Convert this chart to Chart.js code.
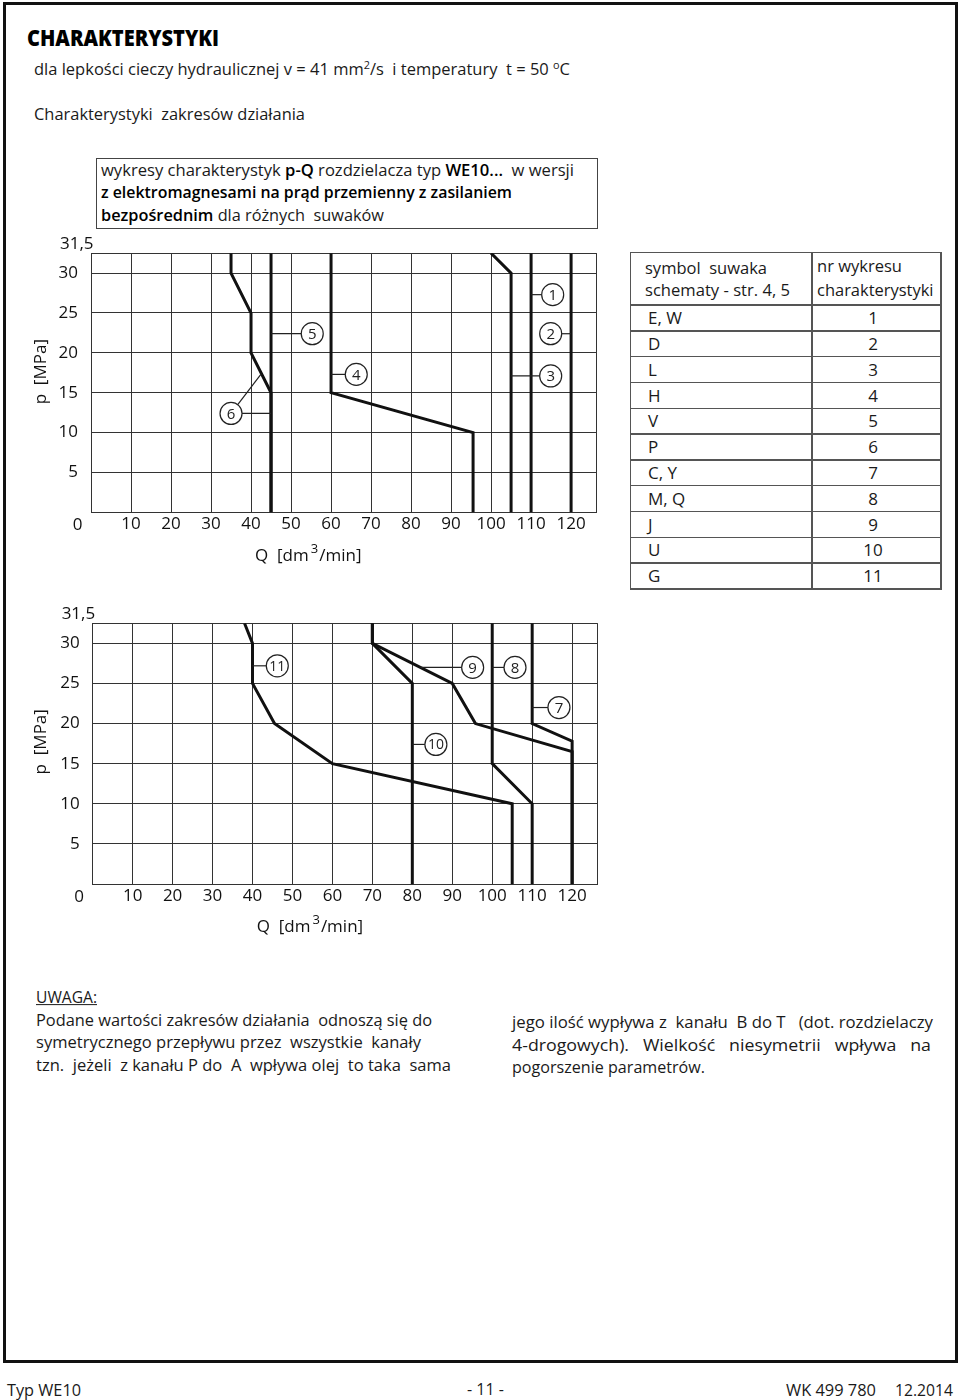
<!DOCTYPE html>
<html lang="pl">
<head>
<meta charset="utf-8">
<script src="https://cdn.jsdelivr.net/npm/chart.js@4.4.1/dist/chart.umd.min.js"></script>
<style>
html,body{margin:0;padding:0;background:#fff;}
#page{position:relative;width:960px;height:1400px;overflow:hidden;font-family:'Open Sans',sans-serif;color:#1a1a1a;}
.t{position:absolute;white-space:nowrap;line-height:1.2;transform-origin:0 50%;}
.sup{font-size:0.66em;position:relative;top:-0.55em;}
.b{font-weight:600;color:#000;}
canvas{position:absolute;left:0;}
.frame{position:absolute;left:3px;top:2px;width:949px;height:1355px;border:3px solid #111;}
.box{position:absolute;box-sizing:border-box;left:95.5px;top:158px;width:502px;height:70.5px;border:1.4px solid #444;}
.tl{position:absolute;background:#555;}
</style>
</head>
<body>
<div id="page">
  <div class="frame"></div>

  <div class="t" style="left:27px;top:37px;font-size:22px;font-weight:800;color:#000;" data-w="192">CHARAKTERYSTYKI</div>
  <div class="t" style="left:33.6px;top:69px;font-size:17px;" data-w="536">dla lepkości cieczy hydraulicznej v = 41 mm<span class="sup">2</span>/s&nbsp; i temperatury&nbsp; t = 50 <span class="sup">o</span>C</div>
  <div class="t" style="left:33.6px;top:114px;font-size:17px;" data-w="271">Charakterystyki&nbsp; zakresów działania</div>

  <div class="box"></div>
  <div class="t" style="left:100.6px;top:171px;font-size:16px;" data-w="473">wykresy charakterystyk <span class="b">p-Q</span> rozdzielacza typ <span class="b">WE10...</span>&nbsp; w wersji</div>
  <div class="t b" style="left:100.6px;top:193px;font-size:16px;" data-w="411">z elektromagnesami na prąd przemienny z zasilaniem</div>
  <div class="t" style="left:100.6px;top:216px;font-size:16px;" data-w="283"><span class="b">bezpośrednim</span> dla różnych&nbsp; suwaków</div>

  <canvas id="c1" width="620" height="340" style="top:230px;width:620px;height:340px;"></canvas>
  <canvas id="c2" width="620" height="350" style="top:600px;width:620px;height:350px;"></canvas>

  <div id="table"></div>

  <div class="t" style="left:36px;top:997px;font-size:16.5px;text-decoration:underline;" data-w="61">UWAGA:</div>
  <div class="t" style="left:36px;top:1020px;font-size:16.5px;" data-w="396">Podane wartości zakresów działania&nbsp; odnoszą się do</div>
  <div class="t" style="left:36px;top:1042px;font-size:16.5px;" data-w="385">symetrycznego przepływu przez&nbsp; wszystkie&nbsp; kanały</div>
  <div class="t" style="left:36px;top:1065px;font-size:16.5px;" data-w="415">tzn.&nbsp; jeżeli&nbsp; z kanału P do&nbsp; A&nbsp; wpływa olej&nbsp; to taka&nbsp; sama</div>
  <div class="t" style="left:512px;top:1022px;font-size:16.5px;" data-w="421">jego ilość wypływa z&nbsp; kanału&nbsp; B do T&nbsp;&nbsp; (dot. rozdzielaczy</div>
  <div class="t" style="left:512px;top:1045px;font-size:16.5px;" data-w="419">4-drogowych).&nbsp;&nbsp; Wielkość&nbsp;&nbsp; niesymetrii&nbsp;&nbsp; wpływa&nbsp;&nbsp; na</div>
  <div class="t" style="left:512px;top:1067px;font-size:16.5px;" data-w="193">pogorszenie parametrów.</div>

  <div class="t" style="left:7px;top:1390px;font-size:17px;" data-w="74">Typ WE10</div>
  <div class="t" style="left:467px;top:1389px;font-size:17px;" data-w="37">- 11 -</div>
  <div class="t" style="left:786px;top:1390px;font-size:17px;" data-w="90">WK 499 780</div>
  <div class="t" style="left:895px;top:1390px;font-size:17px;" data-w="58">12.2014</div>
</div>

<script>
// ---------- data ----------
const Q_MAX = 126.4;          // right edge of the grid (dm3/min)
const P_MAX = 32.5;           // top edge of the grid (MPa)
const qTicks = [0, 10, 20, 30, 40, 50, 60, 70, 80, 90, 100, 110, 120];
const pTicks = [0, 5, 10, 15, 20, 25, 30];
const pTopLabel = '31,5';

// upper chart: curves as [Q, p]
const curve1 = [[110, 0], [110, 32.5]];
const curve2 = [[120, 0], [120, 32.5]];
const curve3 = [[105, 0], [105, 30], [100, 32.5]];
const curve4 = [[95.5, 0], [95.5, 10], [60, 15], [60, 32.5]];
const curve5 = [[45, 0], [45, 32.5]];
const curve6 = [[45, 0], [45, 15], [40, 20], [40, 25], [35, 30], [35, 32.5]];

// lower chart
const curve7 = [[120, 0], [120, 17.8], [110, 20], [110, 32.5]];
const curve8 = [[110, 0], [110, 10], [100, 15], [100, 32.5]];
const curve9 = [[120, 0], [120, 16.5], [95.8, 20], [90, 25], [70, 30], [70, 32.5]];
const curve10 = [[80, 0], [80, 25], [70, 30], [70, 32.5]];
const curve11 = [[105, 0], [105, 10], [60, 15], [45.5, 20], [40, 25], [40, 30], [38, 32.5]];

// curve number callouts (circle centre in data units) and leader anchor points
const topNames = ['1', '2', '3', '4', '5', '6'];
const topNameQ = [115.4, 114.9, 114.9, 66.3, 55.3, 35.0];
const topNameP = [27.3, 22.4, 17.1, 17.3, 22.4, 12.4];
const topLeaderOf = [0, 1, 2, 3, 4, 5, 5];
const topLeaderQ = [110, 120, 105, 60, 45, 45, 42.6];
const topLeaderP = [27.3, 22.4, 17.1, 17.3, 22.4, 12.4, 17.4];

const botNames = ['7', '8', '9', '10', '11'];
const botNameQ = [116.7, 105.7, 95.1, 85.9, 46.2];
const botNameP = [22.0, 27.0, 27.0, 17.4, 27.2];
const botLeaderOf = [0, 1, 2, 3, 4];
const botLeaderQ = [110, 100, 82, 80, 40];
const botLeaderP = [22.0, 27.0, 27.0, 17.4, 27.2];

const tableSymbols = ['E, W', 'D', 'L', 'H', 'V', 'P', 'C, Y', 'M, Q', 'J', 'U', 'G'];
const tableChartNo = ['1', '2', '3', '4', '5', '6', '7', '8', '9', '10', '11'];

// ---------- text fitting ----------
document.querySelectorAll('[data-w]').forEach(el => {
  const w = parseFloat(el.dataset.w);
  const nat = el.getBoundingClientRect().width;
  el.style.transform = 'translateY(-50%) scaleX(' + (w / nat) + ')';
});
document.querySelectorAll('.t:not([data-w])').forEach(el => {
  el.style.transform = 'translateY(-50%)';
});

// ---------- table ----------
(function buildTable() {
  const host = document.getElementById('table');
  const L = 629.5, T = 251.5, R = 940, HB = 304.3, RH = 25.8, CX = 811, lw = 1.5;
  const B = HB + RH * tableSymbols.length;
  const add = (html) => host.insertAdjacentHTML('beforeend', html);
  add(`<div class="tl" style="left:${L}px;top:${T}px;width:${R - L}px;height:${lw}px"></div>`);
  add(`<div class="tl" style="left:${L}px;top:${B}px;width:${R - L + lw}px;height:${lw}px"></div>`);
  add(`<div class="tl" style="left:${L}px;top:${T}px;width:${lw}px;height:${B - T}px"></div>`);
  add(`<div class="tl" style="left:${R}px;top:${T}px;width:${lw}px;height:${B - T}px"></div>`);
  add(`<div class="tl" style="left:${CX}px;top:${T}px;width:${lw}px;height:${B - T}px"></div>`);
  for (let k = 0; k < tableSymbols.length; k++) {
    const y = HB + RH * k;
    add(`<div class="tl" style="left:${L}px;top:${y}px;width:${R - L}px;height:${lw}px"></div>`);
    const cy = y + RH / 2 + 1;
    add(`<div class="t" style="left:648px;top:${cy}px;font-size:17px;transform:translateY(-50%)">${tableSymbols[k]}</div>`);
    add(`<div class="t" style="left:873px;top:${cy}px;font-size:17px;transform:translate(-50%,-50%)">${tableChartNo[k]}</div>`);
  }
  const hdr = [
    ['symbol&nbsp; suwaka', 645, 268.5, 122],
    ['schematy - str. 4, 5', 645, 290.5, 145],
    ['nr wykresu', 816.7, 266.7, 85],
    ['charakterystyki', 816.7, 290.5, 116.5]
  ];
  hdr.forEach(([txt, x, y, w]) => {
    add(`<div class="t" data-h="${w}" style="left:${x}px;top:${y}px;font-size:16px">${txt}</div>`);
  });
  host.querySelectorAll('[data-h]').forEach(el => {
    const nat = el.getBoundingClientRect().width;
    el.style.transform = 'translateY(-50%) scaleX(' + (parseFloat(el.dataset.h) / nat) + ')';
  });
})();

// ---------- charts ----------
const FONT = 'Open Sans';
const annotPlugin = {
  id: 'annot',
  afterDatasetsDraw(chart, args, o) {
    const { ctx, scales: { x, y } } = chart;
    ctx.save();
    ctx.strokeStyle = '#222';
    ctx.lineWidth = 1.2;
    o.leaderOf.forEach((li, k) => {
      ctx.beginPath();
      ctx.moveTo(x.getPixelForValue(o.leaderQ[k]), y.getPixelForValue(o.leaderP[k]));
      ctx.lineTo(x.getPixelForValue(o.nameQ[li]), y.getPixelForValue(o.nameP[li]));
      ctx.stroke();
    });
    o.names.forEach((n, i) => {
      const cx = x.getPixelForValue(o.nameQ[i]), cy = y.getPixelForValue(o.nameP[i]);
      ctx.beginPath();
      ctx.arc(cx, cy, 11, 0, Math.PI * 2);
      ctx.fillStyle = '#fff';
      ctx.fill();
      ctx.stroke();
      ctx.fillStyle = '#222';
      ctx.font = (n.length > 1 ? '14px ' : '15px ') + FONT;
      ctx.textAlign = 'center';
      ctx.textBaseline = 'middle';
      ctx.fillText(n, cx, cy + 1);
    });
    ctx.restore();
  },
  afterDraw(chart, args, o) {
    const { ctx, chartArea: a } = chart;
    ctx.save();
    ctx.fillStyle = '#111';
    ctx.textBaseline = 'middle';
    ctx.font = '17px ' + FONT;
    ctx.textAlign = 'right';
    ctx.fillText(pTopLabel, a.left + 2.5, a.top - 9);
    ctx.textAlign = 'center';
    ctx.fillText('0', a.left - 13.5, a.bottom + 13);
    // y title
    ctx.save();
    ctx.translate(41, a.top + 118.5);
    ctx.rotate(-Math.PI / 2);
    ctx.font = '17px ' + FONT;
    ctx.fillText('p  [MPa]', 0, 0);
    ctx.restore();
    // x title with superscript
    ctx.textAlign = 'left';
    let xx = a.left + 164, yy = a.bottom + 43.5;
    ctx.font = '17px ' + FONT;
    ctx.fillText('Q  [dm', xx, yy);
    xx += ctx.measureText('Q  [dm').width + 2;
    ctx.font = '13px ' + FONT;
    ctx.fillText('3', xx, yy - 7);
    xx += ctx.measureText('3').width + 1;
    ctx.font = '17px ' + FONT;
    ctx.fillText('/min]', xx, yy);
    ctx.restore();
  }
};

function toDataset(c) {
  return {
    data: c.map(([q, p]) => ({ x: q, y: p })),
    showLine: true, borderColor: '#111', borderWidth: 3,
    pointRadius: 0, pointHoverRadius: 0, fill: false, tension: 0
  };
}

function makeChart(id, curves, ann, pad, yWidth) {
  const tickFont = { family: FONT, size: 17 };
  return new Chart(document.getElementById(id), {
    type: 'scatter',
    data: { datasets: curves.map(toDataset) },
    options: {
      responsive: false, animation: false, devicePixelRatio: 1,
      layout: { padding: pad },
      plugins: { legend: { display: false }, tooltip: { enabled: false }, annot: ann },
      scales: {
        x: {
          type: 'linear', min: 0, max: Q_MAX,
          afterBuildTicks: s => { s.ticks = qTicks.concat([Q_MAX]).map(v => ({ value: v })); },
          afterFit: s => { s.height = 40; },
          ticks: {
            autoSkip: false, maxRotation: 0, minRotation: 0, padding: 2, color: '#111', font: tickFont,
            callback: v => (v !== 0 && qTicks.includes(v)) ? String(v) : ''
          },
          grid: { color: '#333', lineWidth: 1, drawTicks: false },
          border: { display: true, color: '#333', width: 1 }
        },
        y: {
          type: 'linear', min: 0, max: P_MAX,
          afterBuildTicks: s => { s.ticks = pTicks.concat([P_MAX]).map(v => ({ value: v })); },
          afterFit: s => { s.width = yWidth; },
          ticks: {
            autoSkip: false, padding: 13, color: '#111', font: tickFont,
            callback: v => (v !== 0 && pTicks.includes(v)) ? String(v) : ''
          },
          grid: { color: '#333', lineWidth: 1, drawTicks: false },
          border: { display: true, color: '#333', width: 1 }
        }
      }
    },
    plugins: [annotPlugin]
  });
}

makeChart('c1', [curve1, curve2, curve3, curve4, curve5, curve6],
  { names: topNames, nameQ: topNameQ, nameP: topNameP, leaderOf: topLeaderOf, leaderQ: topLeaderQ, leaderP: topLeaderP },
  { left: 0, top: 22.3, right: 23.3, bottom: 17.7 }, 91);

makeChart('c2', [curve7, curve8, curve9, curve10, curve11],
  { names: botNames, nameQ: botNameQ, nameP: botNameP, leaderOf: botLeaderOf, leaderQ: botLeaderQ, leaderP: botLeaderP },
  { left: 0, top: 23.3, right: 22.3, bottom: 26 }, 92.7);
</script>
</body>
</html>
